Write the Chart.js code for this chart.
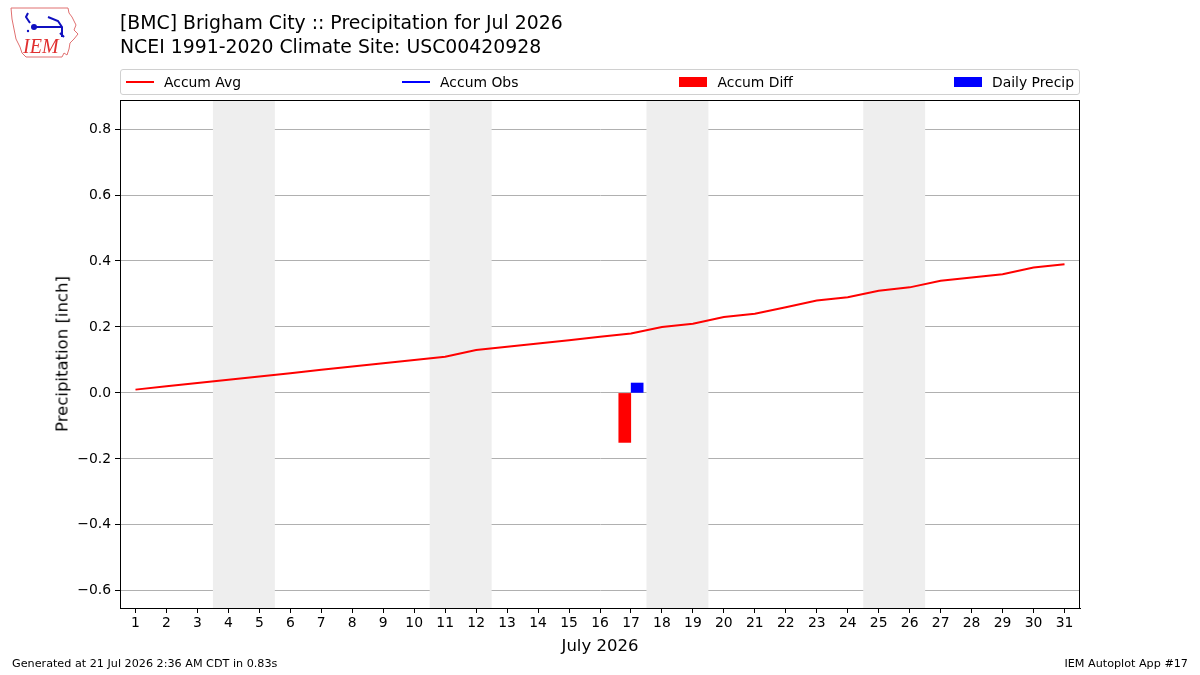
<!DOCTYPE html>
<html>
<head>
<meta charset="utf-8">
<script src="https://cdn.jsdelivr.net/npm/chart.js@4"></script>
<style>
  body { margin: 0; background: #fff; font-family: "DejaVu Sans", sans-serif; }
  #wrap { position: relative; width: 1200px; height: 675px; overflow: hidden; }
  #chart { position: absolute; left: 0; top: 0; }
  .title { position: absolute; left: 120px; font-size: 18.85px; color: #000; white-space: nowrap; }
  #legend { position: absolute; left: 120px; top: 69px; width: 960px; height: 26px; border: 1px solid #d0d0d0; border-radius: 3px;
            display: flex; justify-content: space-between; align-items: center; padding: 0 5px; box-sizing: border-box; font-size: 13.9px; }
  .item { display: flex; align-items: center; white-space: nowrap; }
  .swatch { width: 28px; margin-right: 10px; }
  .ytitle { position: absolute; left: 62px; top: 354px; transform: translate(-50%, -50%) rotate(-90deg); font-size: 16.5px; white-space: nowrap; }
  .xtitle { position: absolute; left: 600px; top: 645px; transform: translate(-50%, -50%); font-size: 16.5px; white-space: nowrap; }
  .foot { position: absolute; top: 657px; font-size: 11.2px; white-space: nowrap; }
</style>
</head>
<body>
<div id="wrap">
  <canvas id="chart" width="1200" height="675"></canvas>
  <svg style="position:absolute;left:6px;top:3px" width="76" height="58" viewBox="0 0 76 58">
    <path d="M5,5 L62,5 L63,10 L66,14 L68,18 L70,22 L68,27 L72,31 L68,36 L64,40 L63,46 L61,52 L58,50 L56,54 L20,54 L16,50 L14,44 L10,36 L8,26 L6,16 Z" fill="none" stroke="#e07070" stroke-width="1"/>
    <path d="M22,10 L20,14 L24,20 M26,24 L56,24 M42,14 L52,18 L56,24 L56,34 M54,30 L58,34" fill="none" stroke="#1010c0" stroke-width="2"/>
    <circle cx="28" cy="24" r="3" fill="#1010c0"/>
    <circle cx="22" cy="28" r="1.2" fill="#1010c0"/>
    <text x="17" y="50" font-family="Liberation Serif, serif" font-style="italic" font-size="20" fill="#e03030">IEM</text>
  </svg>
  <div class="title" style="top:12px">[BMC] Brigham City :: Precipitation for Jul 2026</div>
  <div class="title" style="top:36px">NCEI 1991-2020 Climate Site: USC00420928</div>
  <div id="legend"></div>
  <div class="ytitle">Precipitation [inch]</div>
  <div class="xtitle">July 2026</div>
  <div class="foot" style="left:12px">Generated at 21 Jul 2026 2:36 AM CDT in 0.83s</div>
  <div class="foot" style="right:12px">IEM Autoplot App #17</div>
</div>
<script>
const days = [1,2,3,4,5,6,7,8,9,10,11,12,13,14,15,16,17,18,19,20,21,22,23,24,25,26,27,28,29,30,31];
const accumAvg = [0.01,0.02,0.03,0.04,0.05,0.06,0.07,0.08,0.09,0.10,0.11,0.13,0.14,0.15,0.16,0.17,0.18,0.20,0.21,0.23,0.24,0.26,0.28,0.29,0.31,0.32,0.34,0.35,0.36,0.38,0.39];
const accumObs = [null,null,null,null,null,null,null,null,null,null,null,null,null,null,null,null,0.03,null,null,null,null,null,null,null,null,null,null,null,null,null,null];
const accumDiff = [null,null,null,null,null,null,null,null,null,null,null,null,null,null,null,null,-0.15,null,null,null,null,null,null,null,null,null,null,null,null,null,null];
const dailyPrecip = [0,0,0,0,0,0,0,0,0,0,0,0,0,0,0,0,0.03,0,0,0,null,null,null,null,null,null,null,null,null,null,null];
const weekends = [[3.5,5.5],[10.5,12.5],[17.5,19.5],[24.5,26.5]];
const yTicks = [-0.6,-0.4,-0.2,0.0,0.2,0.4,0.6,0.8];

// zero-height bars would leave a faint sliver on the zero line, so skip them
const pts = (vals, shift, skipZero) => days.map((d, i) => ({x: d + shift, y: vals[i]}))
  .filter(p => p.y !== null && !(skipZero && p.y === 0));

const shade = {
  id: 'shade',
  beforeDatasetsDraw(chart) {
    const {ctx, chartArea: a, scales: {x}} = chart;
    ctx.save();
    ctx.fillStyle = '#eeeeee';
    weekends.forEach(([s, e]) => {
      const x0 = x.getPixelForValue(s), x1 = x.getPixelForValue(e);
      ctx.fillRect(x0, a.top, x1 - x0, a.bottom - a.top);
    });
    ctx.restore();
  },
  afterDraw(chart) {
    const {ctx, chartArea: a} = chart;
    ctx.save();
    ctx.strokeStyle = '#000';
    ctx.lineWidth = 1;
    ctx.strokeRect(Math.round(a.left) + 0.5, Math.round(a.top) + 0.5, Math.round(a.right - a.left) - 1, Math.round(a.bottom - a.top));
    ctx.restore();
  }
};

const datasets = [
  {type: 'line', label: 'Accum Avg', data: pts(accumAvg, 0), borderColor: '#ff0000', borderWidth: 2, pointRadius: 0, swatch: 'line'},
  {type: 'line', label: 'Accum Obs', data: pts(accumObs, 0), borderColor: '#0000ff', borderWidth: 2, pointRadius: 0, swatch: 'line'},
  {type: 'bar', label: 'Accum Diff', data: pts(accumDiff, -0.2, true), backgroundColor: '#ff0000', barThickness: 12, grouped: false, swatch: 'box'},
  {type: 'bar', label: 'Daily Precip', data: pts(dailyPrecip, 0.2, true), backgroundColor: '#0000ff', barThickness: 12, grouped: false, swatch: 'box'}
];

const legend = document.getElementById('legend');
datasets.forEach(ds => {
  const color = ds.borderColor || ds.backgroundColor;
  const h = ds.swatch === 'line' ? 2 : 10;
  legend.insertAdjacentHTML('beforeend',
    `<span class="item"><span class="swatch" style="height:${h}px;background:${color}"></span>${ds.label}</span>`);
});

const tickFont = {family: 'DejaVu Sans', size: 13.9};

new Chart(document.getElementById('chart'), {
  type: 'line',
  data: {datasets},
  options: {
    responsive: false,
    animation: false,
    layout: {padding: {top: 100, right: 120, left: 0, bottom: 0}},
    plugins: {legend: {display: false}, tooltip: {enabled: false}},
    scales: {
      x: {
        type: 'linear', min: 0.5, max: 31.5, offset: false,
        afterBuildTicks: s => { s.ticks = days.map(v => ({value: v})); },
        afterFit: s => { s.height = 67; },
        ticks: {color: '#000', font: tickFont, padding: 2, autoSkip: false, maxRotation: 0, callback: v => String(v)},
        grid: {offset: false, drawOnChartArea: false, drawTicks: true, tickLength: 5, color: '#000'},
        border: {display: true, color: '#000'}
      },
      y: {
        type: 'linear', min: -0.652, max: 0.888,
        afterBuildTicks: s => { s.ticks = yTicks.map(v => ({value: v})); },
        afterFit: s => { s.width = 120; },
        ticks: {color: '#000', font: tickFont, padding: 4, callback: v => v.toFixed(1).replace('-', '\u2212')},
        grid: {color: '#b0b0b0', lineWidth: 1, drawTicks: true, tickLength: 5, tickColor: '#000'},
        border: {display: true, color: '#000'}
      }
    }
  },
  plugins: [shade]
});
</script>
</body>
</html>
